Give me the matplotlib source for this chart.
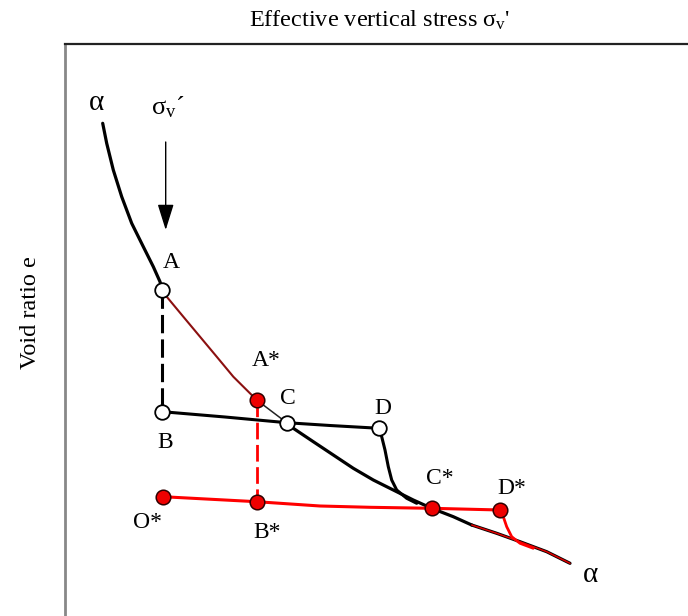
import numpy as np
import matplotlib
matplotlib.use("Agg")
import matplotlib.pyplot as plt

plt.rcParams['font.family'] = ['Liberation Serif', 'DejaVu Serif']
plt.rcParams['mathtext.fontset'] = 'stix'

# normal compression line alpha-alpha (stress, void ratio), split by line style
ncl_upper_s = [37.7, 41.7, 48.3, 56.7, 66.7, 78.3, 88.3, 95.0, 97.3]
ncl_upper_e = [492.7, 472.7, 446.0, 419.3, 392.7, 369.3, 349.3, 334.3, 326.0]
ncl_red_s = [97.3, 101.7, 118.3, 135.0, 151.7, 168.3, 185.0, 191.7]
ncl_red_e = [326.0, 319.3, 299.3, 279.3, 259.3, 239.3, 222.7, 216.0]
ncl_thin_s = [191.7, 221.7]
ncl_thin_e = [216.0, 193.3]
ncl_mid_s = [221.7, 228.3, 248.3, 268.3, 288.3, 308.3, 328.3, 348.3, 366.7, 388.3, 406.7]
ncl_mid_e = [193.3, 187.7, 174.3, 161.0, 147.7, 136.0, 126.0, 116.0, 107.7, 99.3, 91.0]
ncl_tail_s = [406.7, 431.7, 455.0, 481.7, 505.0]
ncl_tail_e = [91.0, 82.7, 74.3, 64.3, 52.7]

# unloading / reloading path B-C-D and its branch back to the line
bcd_s = [97.3, 160.0, 221.7, 265.0, 314.3]
bcd_e = [204.3, 199.0, 193.3, 190.5, 187.7]
d_branch_s = [314.3, 316.7, 320.0, 323.3, 326.7, 331.7, 341.7, 351.7]
d_branch_e = [187.7, 179.3, 166.0, 149.3, 136.0, 126.0, 117.7, 112.7]

# starred path O*-B*-C*-D* and its branch
star_s = [97.7, 191.7, 255.0, 305.0, 366.7, 395.0, 435.0]
star_e = [119.3, 114.3, 110.0, 108.7, 107.7, 107.0, 106.0]
dstar_branch_s = [435.0, 438.3, 441.7, 446.7, 455.0, 468.3]
dstar_branch_e = [106.0, 99.3, 89.3, 79.3, 72.7, 67.7]

# drops A->B and A*->B*
drop_s = [97.3, 97.3]
drop_e = [326.0, 204.3]
drop_star_s = [191.7, 191.7]
drop_star_e = [216.0, 114.3]

open_pts = {'A': (97.3, 326.0), 'B': (97.3, 204.3), 'C': (221.7, 193.3), 'D': (314.3, 187.7)}
red_pts = {'A*': (191.7, 216.0), 'O*': (97.7, 119.3), 'B*': (191.7, 114.3),
           'C*': (366.7, 107.7), 'D*': (435.0, 106.0)}

labels = {'A': (106, 353), 'B': (100, 173), 'C': (223, 218), 'D': (318, 208),
          'A*': (201, 256), 'O*': (83, 93), 'B*': (202, 84),
          'C*': (375, 138), 'D*': (447, 128)}

fig = plt.figure(figsize=(6.88, 6.16), dpi=100)
ax = fig.add_axes([65 / 688, 0, 1 - 65 / 688, 572 / 616])
ax.set_xlim(0, 623)
ax.set_ylim(0, 572)
ax.set_xticks([])
ax.set_yticks([])
ax.spines['right'].set_visible(False)
ax.spines['bottom'].set_visible(False)
ax.spines['left'].set_color('#888888')
ax.spines['left'].set_linewidth(2)
ax.spines['top'].set_color('#222222')
ax.spines['top'].set_linewidth(1.6)

line_kw = dict(solid_joinstyle='round', solid_capstyle='round')
ax.plot(ncl_upper_s, ncl_upper_e, color='black', lw=2.3, **line_kw)
ax.plot(ncl_red_s, ncl_red_e, color='#8b1010', lw=1.5, **line_kw)
ax.plot(ncl_thin_s, ncl_thin_e, color='#222222', lw=1.1, **line_kw)
ax.plot(ncl_mid_s, ncl_mid_e, color='black', lw=2.3, **line_kw)
ax.plot(ncl_tail_s, ncl_tail_e, color='black', lw=2.3, **line_kw)
ax.plot(ncl_tail_s, ncl_tail_e, color='#e00000', lw=1.1, **line_kw)

ax.plot(bcd_s, bcd_e, color='black', lw=2.2, **line_kw)
ax.plot(d_branch_s, d_branch_e, color='black', lw=2.2, **line_kw)
ax.plot(star_s, star_e, color='#ff0000', lw=2.2, **line_kw)
ax.plot(dstar_branch_s, dstar_branch_e, color='#ff0000', lw=2.0, **line_kw)

ax.plot(drop_s, drop_e, color='black', lw=2.2, dashes=(6, 2))
ax.plot(drop_star_s, drop_star_e, color='#ff0000', lw=2.0, dashes=(6, 2))

for s, e in open_pts.values():
    ax.plot(s, e, 'o', ms=10.5, mfc='white', mec='black', mew=1.3, zorder=5)
for s, e in red_pts.values():
    ax.plot(s, e, 'o', ms=10.5, mfc='#ee0000', mec='#300000', mew=1.1, zorder=5)

for name, (s, e) in labels.items():
    ax.text(s, e, name, fontsize=17, ha='center', va='center')

# load increment arrow
ax.annotate('', xy=(100.7, 386), xytext=(100.7, 474),
            arrowprops=dict(arrowstyle='-|>,head_length=1.6,head_width=0.5',
                            color='black', lw=1.0, shrinkA=0, shrinkB=0))
ax.text(103, 509, r"$\mathregular{σ_v}$´", fontsize=19, ha='center', va='center')
ax.text(31, 513, "α", fontsize=21, ha='center', va='center')
ax.text(525, 41, "α", fontsize=21, ha='center', va='center')

fig.text(380 / 688, 1 - 20 / 616, r"Effective vertical stress $\mathregular{σ_v}$'",
         fontsize=17.5, ha='center', va='center')
fig.text(30 / 688, 1 - 313 / 616, "Void ratio e", fontsize=17.5,
         ha='center', va='center', rotation=90)

fig.savefig('out.png', dpi=100)
